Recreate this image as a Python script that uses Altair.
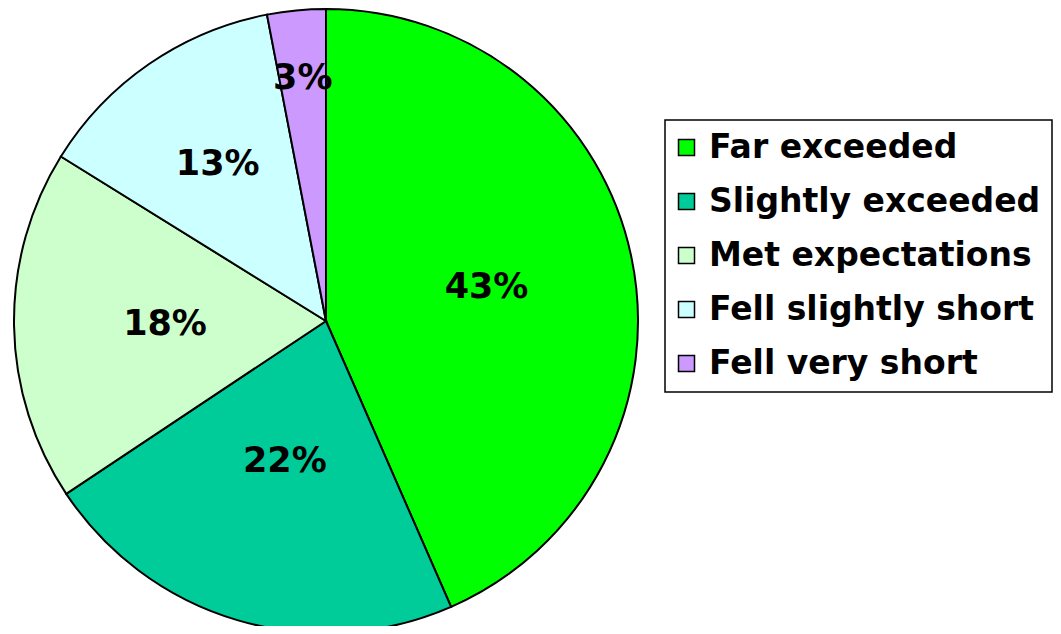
import altair as alt
import pandas as pd

categories = ["Far exceeded", "Slightly exceeded", "Met expectations",
              "Fell slightly short", "Fell very short"]
values = [43, 22, 18, 13, 3]
labels = ["43%", "22%", "18%", "13%", "3%"]
colors = ["#00FF00", "#00CC99", "#CCFFCC", "#CCFFFF", "#CC99FF"]

df = pd.DataFrame({
    "category": categories,
    "value": values,
    "label": labels,
    "idx": list(range(len(categories))),
})

FONT = "DejaVu Sans"

color_scale = alt.Scale(domain=categories, range=colors)

base = alt.Chart(df).encode(
    theta=alt.Theta("value:Q", stack=True),
    order=alt.Order("idx:Q", sort="ascending"),
)

pie = base.mark_arc(
    radius=312, stroke="black", strokeWidth=2,
).encode(
    x=alt.value(318),
    y=alt.value(313),
    color=alt.Color(
        "category:N",
        title=None,
        scale=color_scale,
        sort=categories,
        legend=alt.Legend(
            orient="none", legendX=657, legendY=112,
            direction="vertical",
            symbolType="square", symbolSize=256, symbolOffset=-6,
            symbolStrokeColor="black", symbolStrokeWidth=1.5,
            labelFont=FONT, labelFontSize=33, labelFontWeight="bold",
            labelColor="black", labelLimit=600, labelOffset=6,
            rowPadding=20, padding=11,
            strokeColor="black", fillColor="white",
        ),
    ),
)

text = base.transform_calculate(
    lr="datum.value >= 40 ? 164 : datum.value >= 20 ? 146 : datum.value >= 15 ? 161 : datum.value >= 10 ? 191 : 244"
).mark_text(
    font=FONT, fontSize=35, fontWeight="bold", color="black",
    align="center", baseline="middle",
    radius=alt.expr("datum.lr"),
).encode(
    x=alt.value(318),
    y=alt.value(313),
    detail=alt.Detail("category:N"),
    text="label:N",
)

chart = alt.layer(pie, text).properties(
    width=1045, height=618,
    padding=0,
    autosize=alt.AutoSizeParams(type="none"),
    background="white",
).configure_view(stroke=None).configure_legend(strokeWidth=1.5)

chart.save("out.html", embed_options={"renderer": "svg", "actions": False})
